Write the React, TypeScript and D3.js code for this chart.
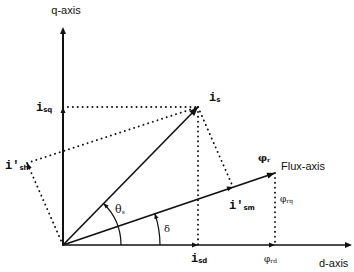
import React from "react";
import * as d3 from "d3";

// d-q plane values (arbitrary units, d to the right, q up)
const axisNames = ["d-axis", "q-axis"];
const axisExtent = [289, 218]; // d, q
const statorCurrent = [135, 138]; // i_s
const rotorFlux = [212, 72]; // φ_r
const ismPoint = [170, 58]; // i'_sm on flux axis
const ishPoint = [-36, 82]; // i'_sh
const labelSymbols = ["i", "i", "i'", "i'", "i", "φ", "φ", "φ"];
const labelSubs = ["sq", "s", "sh", "sm", "sd", "r", "rq", "rd"];

const W = 354;
const H = 272;

export default function App() {
  const x = d3.scaleLinear().domain([0, axisExtent[0]]).range([63, 352]);
  const y = d3.scaleLinear().domain([0, axisExtent[1]]).range([245, 27]);
  const O: [number, number] = [x(0), y(0)];
  const P = (v: number[]): [number, number] => [x(v[0]), y(v[1])];

  const is = P(statorCurrent);
  const fl = P(rotorFlux);
  const ism = P(ismPoint);
  const ish = P(ishPoint);
  const isq = P([0, statorCurrent[1]]);
  const isd = P([statorCurrent[0], 0]);
  const frd = P([rotorFlux[0], 0]);

  const line = d3.line();
  const angIs = Math.atan2(statorCurrent[1], statorCurrent[0]);
  const angFl = Math.atan2(rotorFlux[1], rotorFlux[0]);

  const mkArc = (r: number, a: number) => {
    const p = d3.path();
    p.moveTo(O[0] + r, O[1]);
    p.arc(O[0], O[1], r, 0, -a, true);
    return p.toString();
  };

  const dotted = {
    stroke: "#111",
    strokeWidth: 1.9,
    strokeDasharray: "0.1 4.8",
    strokeLinecap: "round" as const,
    fill: "none",
  };
  const solid = { stroke: "#111", strokeWidth: 1.6, fill: "none" };

  const head = (tip: [number, number], ang: number, len = 7, w = 3) => {
    const bx = tip[0] - len * Math.cos(ang);
    const by = tip[1] - len * Math.sin(ang);
    const px = -Math.sin(ang) * w;
    const py = Math.cos(ang) * w;
    return `M${tip[0]},${tip[1]}L${bx + px},${by + py}L${bx - px},${by - py}Z`;
  };
  const dirTo = (a: [number, number], b: [number, number]) =>
    Math.atan2(b[1] - a[1], b[0] - a[0]);

  const lbl = (i: number, lx: number, ly: number, size = 12) => (
    <text
      key={i}
      x={lx}
      y={ly}
      fontFamily="'Liberation Mono', 'DejaVu Sans Mono', monospace"
      fontWeight="bold"
      fontSize={size}
      fill="#111"
    >
      {labelSymbols[i]}
      <tspan fontSize={7} dy={1} fontFamily="'DejaVu Sans', sans-serif">
        {labelSubs[i]}
      </tspan>
    </text>
  );

  return (
    <svg width={W} height={H} style={{ position: "absolute", left: 0, top: 0, background: "#fff" }}>
      {/* axes */}
      <path d={line([O, [x(axisExtent[0]) - 2, O[1]]])!} {...solid} />
      <path d={head([x(axisExtent[0]), O[1]], 0)} fill="#111" />
      <path d={line([O, [O[0], y(axisExtent[1]) + 2]])!} {...solid} strokeWidth={2} />
      <path d={head([O[0], y(axisExtent[1])], -Math.PI / 2)} fill="#111" />

      {/* vectors */}
      <path d={line([O, is])!} {...solid} />
      <path d={head(is, dirTo(O, is), 9, 3.5)} fill="#111" />
      <path d={line([O, fl])!} {...solid} strokeWidth={1.8} />
      <path d={head(fl, dirTo(O, fl), 8, 3)} fill="#111" />

      {/* dotted projections */}
      <path d={line([isq, is])!} {...dotted} />
      <path d={line([ish, is])!} {...dotted} />
      <path d={line([O, ish])!} {...dotted} />
      <path d={line([is, ism])!} {...dotted} />
      <path d={line([is, isd])!} {...dotted} />
      <path d={line([fl, frd])!} {...dotted} />

      {/* component markers */}
      <path d={head(isq, -Math.PI / 2, 6, 2.5)} fill="#111" />
      <path d={head(isd, 0, 6, 2.5)} fill="#111" />
      <path d={head(frd, 0, 6, 2.5)} fill="#111" />
      <path d={head(ism, dirTo(O, fl), 6, 2.5)} fill="#111" />
      <path d={head(ish, dirTo(O, ish), 6, 2.5)} fill="#111" />

      {/* angle arcs */}
      <path d={mkArc(58, angIs)} {...solid} strokeWidth={1.2} />
      <path
        d={head([O[0] + 58 * Math.cos(angIs), O[1] - 58 * Math.sin(angIs)], -angIs - Math.PI / 2, 5, 2.2)}
        fill="#111"
      />
      <path d={mkArc(97, angFl)} {...solid} strokeWidth={1.2} />
      <path
        d={head([O[0] + 97 * Math.cos(angFl), O[1] - 97 * Math.sin(angFl)], -angFl - Math.PI / 2, 5, 2.2)}
        fill="#111"
      />

      {/* labels */}
      {lbl(0, 36, 111)}
      {lbl(1, 209, 101)}
      {lbl(2, 5, 169)}
      {lbl(3, 229, 209)}
      {lbl(4, 191, 262)}
      <text x={258} y={161} fontFamily="'DejaVu Serif', serif" fontWeight="bold" fontSize={10} fill="#111">
        {labelSymbols[5]}<tspan fontSize={6} dy={1}>{labelSubs[5]}</tspan>
      </text>
      <text x={280} y={202} fontFamily="'DejaVu Serif', serif" fontSize={9} fill="#111">
        {labelSymbols[6]}<tspan fontSize={6} dy={1}>{labelSubs[6]}</tspan>
      </text>
      <text x={264} y={262} fontFamily="'DejaVu Serif', serif" fontSize={9} fill="#111">
        {labelSymbols[7]}<tspan fontSize={6} dy={1}>{labelSubs[7]}</tspan>
      </text>
      <text x={115} y={213} fontFamily="'DejaVu Serif', serif" fontSize={11} fill="#111">
        θ<tspan fontSize={6} dy={1}>s</tspan>
      </text>
      <text x={164} y={232} fontFamily="'DejaVu Serif', serif" fontSize={10} fill="#111">
        δ
      </text>
      <text x={281} y={170} fontFamily="'Liberation Sans', Arial, sans-serif" fontSize={11} fill="#111">
        Flux-axis
      </text>
      <text x={319} y={267} fontFamily="'Liberation Sans', Arial, sans-serif" fontSize={11} fill="#111">
        {axisNames[0]}
      </text>
      <text x={66} y={14} textAnchor="middle" fontFamily="'Liberation Sans', Arial, sans-serif" fontSize={11} fill="#111">
        {axisNames[1]}
      </text>
    </svg>
  );
}
